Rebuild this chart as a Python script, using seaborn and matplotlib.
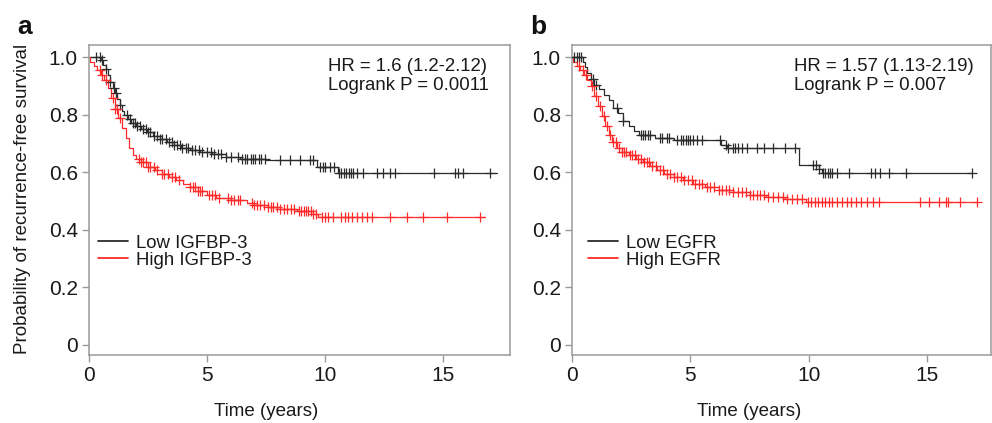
import numpy as np
import pandas as pd
import matplotlib
matplotlib.use("Agg")
import matplotlib.pyplot as plt
import seaborn as sns

# ---------------- data ----------------
panels = ["a", "b"]
group_labels = {"a": ["Low IGFBP-3", "High IGFBP-3"], "b": ["Low EGFR", "High EGFR"]}
hr_text = {"a": "HR = 1.6 (1.2-2.12)\nLogrank P = 0.0011",
           "b": "HR = 1.57 (1.13-2.19)\nLogrank P = 0.007"}

# Panel a - Low IGFBP-3 (step times / survival after step)
a_low_t = [0, 0.5, 0.6, 0.7, 0.8, 0.9, 1.0, 1.1, 1.2, 1.3, 1.4, 1.5, 1.65, 1.8, 2.0, 2.2,
           2.45, 2.7, 3.0, 3.3, 3.6, 3.9, 4.3, 4.7, 5.2, 5.8, 6.4, 7.5, 9.65, 10.55, 17.3]
a_low_s = [1.0, 0.99, 0.975, 0.96, 0.94, 0.915, 0.895, 0.875, 0.855, 0.835, 0.815, 0.80,
           0.785, 0.772, 0.76, 0.75, 0.74, 0.728, 0.715, 0.705, 0.695, 0.685, 0.678, 0.672,
           0.665, 0.655, 0.648, 0.642, 0.618, 0.597, 0.597]
a_low_cens = [0.3, 0.45, 0.55, 0.7, 0.9, 1.05, 1.15, 1.3, 1.6, 1.75, 1.85, 1.95, 2.05, 2.15,
              2.3, 2.4, 2.5, 2.6, 2.75, 2.9, 3.0, 3.1, 3.25, 3.4, 3.5, 3.6, 3.75, 3.85, 3.95,
              4.1, 4.2, 4.35, 4.5, 4.65, 4.8, 5.0, 5.15, 5.3, 5.45, 5.6, 5.8, 6.0, 6.3, 6.5,
              6.6, 6.7, 6.85, 6.95, 7.05, 7.2, 7.3, 7.45, 8.1, 8.5, 8.95, 9.35, 9.5, 9.8, 9.9,
              10.0, 10.2, 10.4, 10.6, 10.7, 10.8, 10.9, 11.0, 11.1, 11.2, 11.35, 11.6, 12.2,
              12.45, 12.75, 12.95, 14.6, 15.5, 15.65, 15.85, 17.0]

# Panel a - High IGFBP-3
a_high_t = [0, 0.05, 0.2, 0.35, 0.5, 0.65, 0.8, 0.95, 1.1, 1.25, 1.4, 1.55, 1.7, 1.85, 2.0,
            2.2, 2.5, 2.8, 3.1, 3.4, 3.7, 4.0, 4.3, 4.6, 5.0, 5.4, 6.0, 6.7, 7.0, 7.6, 8.1,
            8.8, 9.5, 9.7, 16.8]
a_high_s = [1.0, 0.985, 0.97, 0.955, 0.94, 0.92, 0.895, 0.86, 0.82, 0.79, 0.755, 0.72, 0.685,
            0.66, 0.645, 0.635, 0.62, 0.608, 0.595, 0.585, 0.572, 0.56, 0.548, 0.535, 0.522,
            0.512, 0.505, 0.495, 0.488, 0.48, 0.473, 0.465, 0.455, 0.444, 0.444]
a_high_cens = [0.45, 0.55, 0.7, 1.0, 1.1, 1.2, 1.3, 2.1, 2.2, 2.3, 2.4, 2.5, 2.6, 2.75, 2.9,
               3.1, 3.2, 3.35, 3.5, 3.65, 3.8, 4.3, 4.4, 4.5, 4.6, 4.7, 4.8, 5.1, 5.2, 5.35,
               5.5, 5.9, 6.0, 6.15, 6.3, 6.4, 6.9, 7.0, 7.1, 7.25, 7.4, 7.6, 7.7, 7.8, 7.95,
               8.1, 8.25, 8.4, 8.55, 8.7, 8.9, 9.0, 9.1, 9.2, 9.3, 9.4, 9.5, 9.6, 9.86, 10.0,
               10.13, 10.34, 10.7, 10.85, 10.97, 11.13, 11.35, 11.56, 11.77, 11.98, 12.75,
               13.46, 14.15, 15.15, 16.57]

# Panel b - Low EGFR
b_low_t = [0, 0.45, 0.55, 0.65, 0.8, 0.95, 1.15, 1.35, 1.55, 1.75, 1.95, 2.15, 2.4, 2.6,
           2.85, 3.5, 4.3, 6.3, 6.55, 9.6, 10.45, 10.55, 16.9]
b_low_s = [1.0, 0.985, 0.965, 0.945, 0.925, 0.905, 0.89, 0.87, 0.85, 0.825, 0.805, 0.78,
           0.76, 0.745, 0.73, 0.72, 0.712, 0.695, 0.684, 0.625, 0.613, 0.597, 0.597]
b_low_cens = [0.1, 0.2, 0.3, 0.4, 0.9, 1.0, 1.9, 2.15, 2.9, 3.0, 3.1, 3.2, 3.3, 3.7, 3.8,
              4.0, 4.1, 4.45, 4.6, 4.7, 4.8, 4.9, 5.0, 5.1, 5.3, 5.5, 6.25, 6.5, 6.6, 6.8,
              6.9, 7.0, 7.2, 7.4, 7.8, 8.1, 8.5, 9.0, 9.4, 10.2, 10.3, 10.45, 10.6, 10.7,
              10.8, 10.9, 11.0, 11.2, 11.7, 12.65, 12.8, 13.0, 13.4, 14.1, 16.9]

# Panel b - High EGFR
b_high_t = [0, 0.05, 0.2, 0.35, 0.5, 0.65, 0.8, 0.95, 1.1, 1.25, 1.4, 1.55, 1.7, 1.9, 2.1,
            2.4, 2.7, 3.0, 3.3, 3.6, 3.9, 4.3, 4.7, 5.1, 5.6, 6.2, 6.8, 7.5, 8.2, 9.0, 9.9,
            17.1]
b_high_s = [1.0, 0.985, 0.97, 0.955, 0.94, 0.92, 0.9, 0.865, 0.83, 0.795, 0.76, 0.73, 0.705,
            0.685, 0.672, 0.66, 0.648, 0.635, 0.622, 0.608, 0.596, 0.585, 0.573, 0.56, 0.55,
            0.54, 0.53, 0.522, 0.515, 0.507, 0.498, 0.498]
b_high_cens = [0.3, 0.45, 0.6, 0.85, 1.0, 1.2, 1.35, 1.5, 1.6, 1.75, 1.85, 2.0, 2.1, 2.2, 2.3,
               2.45, 2.55, 2.65, 2.8, 2.9, 3.05, 3.15, 3.25, 3.4, 3.55, 3.7, 3.85, 4.0, 4.15,
               4.3, 4.45, 4.6, 4.75, 4.9, 5.05, 5.2, 5.35, 5.5, 5.7, 5.85, 6.0, 6.2, 6.35,
               6.5, 6.65, 6.8, 7.0, 7.2, 7.35, 7.5, 7.65, 7.8, 7.95, 8.1, 8.3, 8.5, 8.7, 8.9,
               9.1, 9.3, 9.5, 9.7, 9.95, 10.1, 10.25, 10.4, 10.55, 10.7, 10.85, 11.0, 11.2,
               11.4, 11.6, 11.8, 12.0, 12.2, 12.45, 12.7, 12.95, 14.7, 15.1, 15.5, 15.8,
               15.9, 16.4, 17.1]

x_ticks = [0, 5, 10, 15]
y_ticks = [0, 0.2, 0.4, 0.6, 0.8, 1.0]
y_ticklabels = ["0", "0.2", "0.4", "0.6", "0.8", "1.0"]

curves = {
    "a": [(a_low_t, a_low_s, a_low_cens), (a_high_t, a_high_s, a_high_cens)],
    "b": [(b_low_t, b_low_s, b_low_cens), (b_high_t, b_high_s, b_high_cens)],
}

# ---------------- style ----------------
sns.set_theme(style="white")
plt.rcParams["font.family"] = ["Liberation Sans", "DejaVu Sans"]

BLACK = "#2b2b2b"
RED = "#ff2a2a"
SPINE = "#9a9a9a"

fig = plt.figure(figsize=(9.92, 4.23), dpi=100)
axes_pos = {"a": [0.0897, 0.1608, 0.4244, 0.7329], "b": [0.5766, 0.1608, 0.4224, 0.7329]}
xmax = {"a": 17.84, "b": 17.7}
legend_anchor = {"a": (0.012, 0.40), "b": (0.03, 0.40)}
hr_x = {"a": 0.568, "b": 0.529}
letter_x = {"a": 0.025, "b": 0.543}

for p in panels:
    ax = fig.add_axes(axes_pos[p])
    labels = group_labels[p]
    palette = {labels[0]: BLACK, labels[1]: RED}

    rows = []
    cens_rows = []
    for lab, (tt, ss, cc) in zip(labels, curves[p]):
        for t, s in zip(tt, ss):
            rows.append({"group": lab, "time": t, "surv": s})
        tt_a = np.asarray(tt)
        ss_a = np.asarray(ss)
        for c in cc:
            idx = np.searchsorted(tt_a, c, side="right") - 1
            cens_rows.append({"group": lab, "time": c, "surv": ss_a[idx]})
    df = pd.DataFrame(rows)
    cdf = pd.DataFrame(cens_rows)

    sns.lineplot(data=df, x="time", y="surv", hue="group", hue_order=labels,
                 palette=palette, drawstyle="steps-post", estimator=None,
                 linewidth=0.9, ax=ax)
    for lab in labels:
        sub = cdf[cdf["group"] == lab]
        sns.scatterplot(data=sub, x="time", y="surv", marker="+", color=palette[lab],
                        s=50, linewidth=0.9, legend=False, ax=ax, zorder=3)

    ax.set_xlim(0, xmax[p])
    ax.set_ylim(-0.035, 1.043)
    ax.set_xticks(x_ticks)
    ax.set_xticklabels([str(v) for v in x_ticks])
    ax.set_yticks(y_ticks)
    ax.set_yticklabels(y_ticklabels)
    ax.tick_params(axis="both", which="both", direction="out", length=5, width=1,
                   color=SPINE, labelsize=15, labelcolor="#1a1a1a", pad=3,
                   bottom=True, left=True)
    for sp in ax.spines.values():
        sp.set_color(SPINE)
        sp.set_linewidth(1.1)
        sp.set_visible(True)

    ax.set_xlabel("Time (years)", fontsize=13.5, color="#1a1a1a")
    ax.xaxis.set_label_coords(7.5 / xmax[p], -0.155)
    if p == "a":
        ax.set_ylabel("Probability of recurrence-free survival", fontsize=13.5,
                      color="#1a1a1a")
        ax.yaxis.set_label_coords(-0.138, 0.503)
    else:
        ax.set_ylabel("")

    ax.text(hr_x[p], 0.958, hr_text[p], transform=ax.transAxes, ha="left", va="top",
            fontsize=13.4, color="#1a1a1a", linespacing=1.12)

    leg = ax.legend(loc="upper left", bbox_to_anchor=legend_anchor[p], frameon=False,
                    fontsize=13.4, handlelength=1.6, handletextpad=0.45, labelspacing=0.0,
                    borderpad=0.2, borderaxespad=0)
    for txt in leg.get_texts():
        txt.set_color("#1a1a1a")
    for h in leg.legend_handles:
        h.set_linewidth(1.3)

    fig.text(letter_x[p], 0.935, p, fontsize=19, fontweight="bold", ha="center",
             va="center", color="#111111")

fig.savefig("out.png", dpi=100)
